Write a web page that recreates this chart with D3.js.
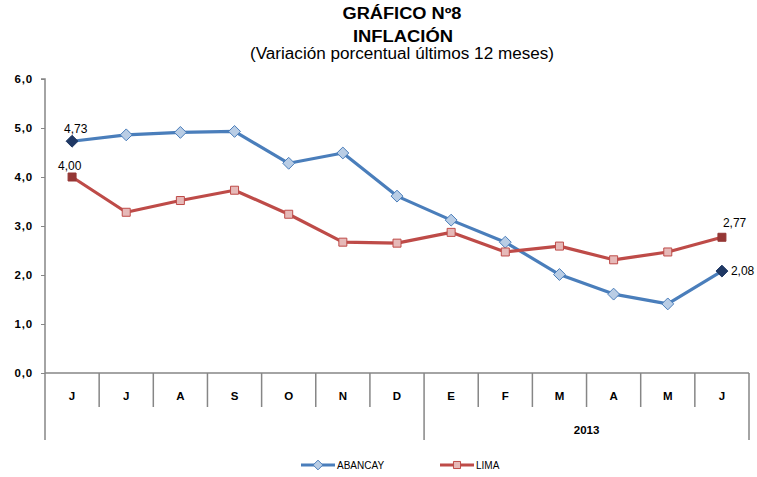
<!DOCTYPE html>
<html lang="es">
<head>
<meta charset="UTF-8">
<script src="https://d3js.org/d3.v7.min.js"></script>
<style>
  body { margin: 0; background: #fff; }
  svg { font-family: "Liberation Sans", Arial, sans-serif; }
  .tick-lbl { font-size: 11.5px; font-weight: bold; fill: #000; }
  .y-lbl { font-size: 11.5px; font-weight: bold; fill: #000; letter-spacing: 0.8px; }
  .val-lbl { font-size: 12px; fill: #000; }
</style>
</head>
<body>
<svg width="757" height="477"></svg>
<script>
  // data
  var months = ["J", "J", "A", "S", "O", "N", "D", "E", "F", "M", "A", "M", "J"];
  var abancay = [4.73, 4.86, 4.91, 4.93, 4.28, 4.49, 3.61, 3.12, 2.67, 2.01, 1.61, 1.41, 2.08];
  var lima = [4.00, 3.28, 3.52, 3.73, 3.24, 2.67, 2.65, 2.87, 2.47, 2.59, 2.31, 2.47, 2.77];
  var yTicks = [0, 1, 2, 3, 4, 5, 6];
  var yearLabel = "2013";

  var svg = d3.select("svg");
  var plotLeft = 45, plotRight = 749, plotTop = 79, plotBottom = 373;
  var axisColor = "#868686";

  var x = d3.scaleBand().domain(d3.range(months.length)).range([plotLeft, plotRight]);
  var y = d3.scaleLinear().domain([0, 6]).range([plotBottom, plotTop]);
  var fmt = function (v) { return d3.format(".1f")(v).replace(".", ","); };
  var fmt2 = function (v) { return d3.format(".2f")(v).replace(".", ","); };

  // titles
  svg.append("text").attr("x", 402).attr("y", 19).attr("text-anchor", "middle")
    .attr("textLength", 119).attr("lengthAdjust", "spacingAndGlyphs")
    .style("font-size", "16px").style("font-weight", "bold").text("GRÁFICO Nº8");
  svg.append("text").attr("x", 403).attr("y", 42).attr("text-anchor", "middle")
    .attr("textLength", 100).attr("lengthAdjust", "spacingAndGlyphs")
    .style("font-size", "16px").style("font-weight", "bold").text("INFLACIÓN");
  svg.append("text").attr("x", 402).attr("y", 59).attr("text-anchor", "middle")
    .attr("textLength", 304).attr("lengthAdjust", "spacingAndGlyphs")
    .style("font-size", "16px").text("(Variación porcentual últimos 12 meses)");

  // y axis
  var yAxis = svg.append("g").attr("transform", "translate(" + plotLeft + ",0)")
    .call(d3.axisLeft(y).tickValues(yTicks).tickSize(4).tickFormat(fmt));
  yAxis.select(".domain").attr("stroke", axisColor).attr("stroke-width", 1.5)
    .attr("d", "M-4," + plotTop + "H0V440");
  yAxis.selectAll(".tick line").attr("stroke", axisColor);
  yAxis.selectAll(".tick text").attr("class", "y-lbl").attr("x", -12);

  // x axis line and category separators
  svg.append("line").attr("x1", plotLeft).attr("x2", plotRight).attr("y1", plotBottom).attr("y2", plotBottom)
    .attr("stroke", axisColor).attr("stroke-width", 1.5);
  var seps = d3.range(1, months.length + 1);
  svg.selectAll(".sep").data(seps).enter().append("line")
    .attr("x1", function (i) { return i === months.length ? plotRight : x(i); })
    .attr("x2", function (i) { return i === months.length ? plotRight : x(i); })
    .attr("y1", plotBottom)
    .attr("y2", function (i) { return (i === 7 || i === months.length) ? 440 : 407; })
    .attr("stroke", axisColor).attr("stroke-width", 1.5);

  svg.selectAll(".mlbl").data(months).enter().append("text")
    .attr("class", "tick-lbl")
    .attr("x", function (d, i) { return x(i) + x.bandwidth() / 2; })
    .attr("y", 400).attr("text-anchor", "middle").text(function (d) { return d; });

  svg.append("text").attr("class", "tick-lbl")
    .attr("x", (x(7) + plotRight) / 2).attr("y", 434).attr("text-anchor", "middle").text(yearLabel);

  // series
  var cx = function (i) { return x(i) + x.bandwidth() / 2; };
  var line = d3.line().x(function (d, i) { return cx(i); }).y(function (d) { return y(d); });

  var series = [
    { name: "ABANCAY", values: abancay, color: "#4a7ebb", fill: "#b9cde5", dark: "#1f3864", sym: d3.symbolDiamond2 },
    { name: "LIMA", values: lima, color: "#be4b48", fill: "#e6b9b8", dark: "#953735", sym: d3.symbolSquare }
  ];

  series.forEach(function (s) {
    svg.append("path").datum(s.values).attr("d", line)
      .attr("fill", "none").attr("stroke", s.color).attr("stroke-width", 3.2)
      .attr("stroke-linejoin", "round");
    var n = s.values.length;
    svg.selectAll(null).data(s.values).enter().append("path")
      .attr("transform", function (d, i) { return "translate(" + cx(i) + "," + y(d) + ")"; })
      .attr("d", d3.symbol().type(s.sym).size(s.sym === d3.symbolSquare ? 64 : 90))
      .attr("fill", function (d, i) { return (i === 0 || i === n - 1) ? s.dark : s.fill; })
      .attr("stroke", function (d, i) { return (i === 0 || i === n - 1) ? s.dark : s.color; })
      .attr("stroke-width", 1);
  });

  // end labels
  var n = months.length;
  svg.append("text").attr("class", "val-lbl").attr("x", cx(0) - 8).attr("y", y(abancay[0]) - 8).text(fmt2(abancay[0]));
  svg.append("text").attr("class", "val-lbl").attr("x", cx(0) - 14).attr("y", y(lima[0]) - 7).text(fmt2(lima[0]));
  svg.append("text").attr("class", "val-lbl").attr("x", cx(n - 1) + 1).attr("y", y(lima[n - 1]) - 10).text(fmt2(lima[n - 1]));
  svg.append("text").attr("class", "val-lbl").attr("x", cx(n - 1) + 9).attr("y", y(abancay[n - 1]) + 4).text(fmt2(abancay[n - 1]));

  // legend
  var lx = [301, 440];
  series.forEach(function (s, k) {
    var g = svg.append("g").attr("transform", "translate(" + lx[k] + ",465)");
    g.append("line").attr("x1", 0).attr("x2", 34).attr("stroke", s.color).attr("stroke-width", 3.2);
    g.append("path").attr("transform", "translate(17,0)")
      .attr("d", d3.symbol().type(s.sym).size(s.sym === d3.symbolSquare ? 50 : 60))
      .attr("fill", s.fill).attr("stroke", s.color);
    g.append("text").attr("x", 36).attr("y", 4).style("font-size", "10px").text(s.name);
  });
</script>
</body>
</html>
